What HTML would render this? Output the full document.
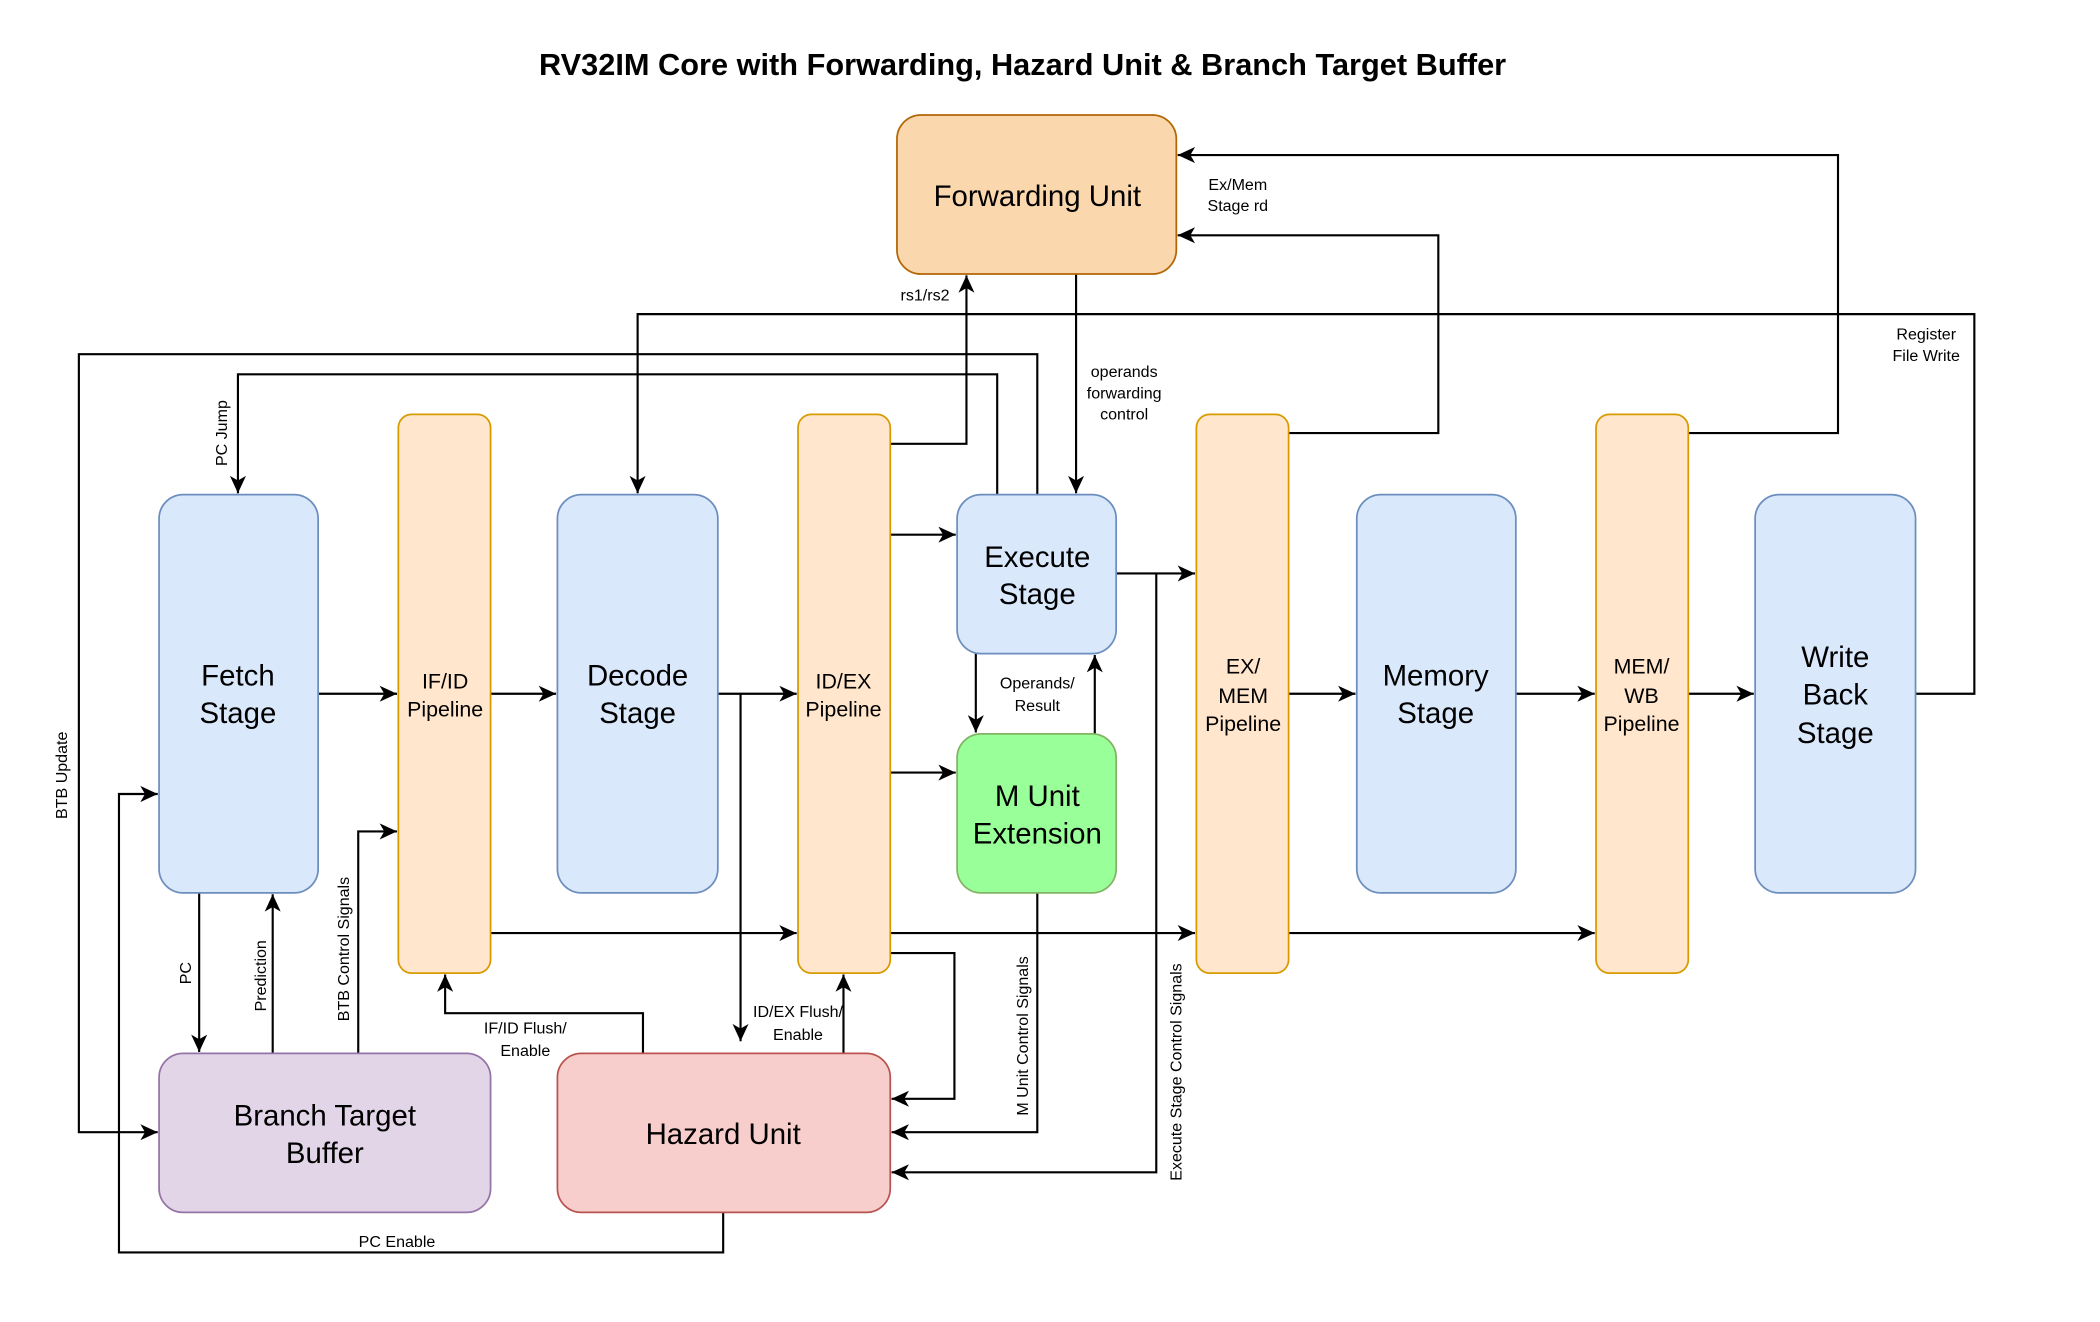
<!DOCTYPE html>
<html><head><meta charset="utf-8"><style>
html,body{margin:0;padding:0;background:#fff;width:2100px;height:1322px;overflow:hidden}
svg{display:block}
text{font-family:"Liberation Sans",Arial,sans-serif;fill:#000}
.n{font-size:22px;text-anchor:middle}
.p{font-size:16px;text-anchor:middle}
.l{font-size:12px;text-anchor:middle}
.e{fill:none;stroke:#000;stroke-width:1.6;marker-end:url(#a)}
.f{fill:none;stroke:#000;stroke-width:1.6}
</style></head><body>
<svg width="2100" height="1322" viewBox="0 0 1571 989" preserveAspectRatio="none">
<defs><marker id="a" markerUnits="userSpaceOnUse" markerWidth="14" markerHeight="12" refX="13" refY="6" orient="auto"><path d="M0,0 L13,6 L0,12 L3.5,6 z" fill="#000"/></marker></defs>
<text x="765" y="56" style="font-size:23px;font-weight:bold;text-anchor:middle">RV32IM Core with Forwarding, Hazard Unit &amp; Branch Target Buffer</text>

<path class="e" d="M238,519H297"/>
<path class="e" d="M367,519H416"/>
<path class="e" d="M537,519H596"/>
<path class="e" d="M964,519H1014"/>
<path class="e" d="M1134,519H1193"/>
<path class="e" d="M1263,519H1312"/>
<path class="e" d="M666,400H715"/>
<path class="e" d="M666,578H715"/>
<path class="e" d="M835,429H894"/>
<path class="e" d="M865,429V877H667"/>
<path class="e" d="M730,489V548"/>
<path class="e" d="M819,549V490"/>
<path class="e" d="M776,668V847H667"/>
<path class="e" d="M666,713H714V822H667"/>
<path class="e" d="M367,698H596"/>
<path class="e" d="M666,698H894"/>
<path class="e" d="M964,698H1193"/>
<path class="e" d="M554,519V779"/>
<path class="e" d="M631,788V729"/>
<path class="e" d="M481,788V758H333V729"/>
<path class="e" d="M541,907V937H89V594H118"/>
<path class="e" d="M149,668V787"/>
<path class="e" d="M204,788V669"/>
<path class="e" d="M268,788V622H297"/>
<path class="e" d="M776,370V265H59V847H118"/>
<path class="e" d="M746,370V280H178V369"/>
<path class="e" d="M666,332H723V206"/>
<path class="e" d="M805,205V369"/>
<path class="e" d="M1433,519H1477V235H477V369"/>
<path class="e" d="M964,324H1076V176H881"/>
<path class="e" d="M1263,324H1375V116H881"/>

<rect x="671" y="86" width="209" height="119" rx="18" fill="#fad7ac" stroke="#b46504" stroke-width="1.3"/>
<text class="n" x="776" y="154">Forwarding Unit</text>

<g fill="#dae8fc" stroke="#6c8ebf" stroke-width="1.3">
<rect x="119" y="370" width="119" height="298" rx="18"/>
<rect x="417" y="370" width="120" height="298" rx="18"/>
<rect x="716" y="370" width="119" height="119" rx="18"/>
<rect x="1015" y="370" width="119" height="298" rx="18"/>
<rect x="1313" y="370" width="120" height="298" rx="18"/>
</g>
<g fill="#ffe6cc" stroke="#d79b00" stroke-width="1.3">
<rect x="298" y="310" width="69" height="418" rx="10"/>
<rect x="597" y="310" width="69" height="418" rx="10"/>
<rect x="895" y="310" width="69" height="418" rx="10"/>
<rect x="1194" y="310" width="69" height="418" rx="10"/>
</g>
<rect x="716" y="549" width="119" height="119" rx="18" fill="#99ff99" stroke="#82b366" stroke-width="1.3"/>
<rect x="119" y="788" width="248" height="119" rx="18" fill="#e1d5e7" stroke="#9673a6" stroke-width="1.3"/>
<rect x="417" y="788" width="249" height="119" rx="18" fill="#f8cecc" stroke="#b85450" stroke-width="1.3"/>

<text class="n" x="178" y="513">Fetch</text><text class="n" x="178" y="541">Stage</text>
<text class="n" x="477" y="513">Decode</text><text class="n" x="477" y="541">Stage</text>
<text class="n" x="776" y="424">Execute</text><text class="n" x="776" y="452">Stage</text>
<text class="n" x="1074" y="513">Memory</text><text class="n" x="1074" y="541">Stage</text>
<text class="n" x="1373" y="499">Write</text><text class="n" x="1373" y="527">Back</text><text class="n" x="1373" y="556">Stage</text>
<text class="n" x="776" y="603">M Unit</text><text class="n" x="776" y="631">Extension</text>
<text class="n" x="243" y="842">Branch Target</text><text class="n" x="243" y="870">Buffer</text>
<text class="n" x="541" y="856">Hazard Unit</text>

<text class="p" x="333" y="515">IF/ID</text><text class="p" x="333" y="536">Pipeline</text>
<text class="p" x="631" y="515">ID/EX</text><text class="p" x="631" y="536">Pipeline</text>
<text class="p" x="930" y="504">EX/</text><text class="p" x="930" y="526">MEM</text><text class="p" x="930" y="547">Pipeline</text>
<text class="p" x="1228" y="504">MEM/</text><text class="p" x="1228" y="526">WB</text><text class="p" x="1228" y="547">Pipeline</text>

<text class="l" x="692" y="225">rs1/rs2</text>
<text class="l" x="841" y="282">operands</text><text class="l" x="841" y="298">forwarding</text><text class="l" x="841" y="314">control</text>
<text class="l" x="926" y="142">Ex/Mem</text><text class="l" x="926" y="158">Stage rd</text>
<text class="l" x="1441" y="254">Register</text><text class="l" x="1441" y="270">File Write</text>
<text class="l" x="776" y="515">Operands/</text><text class="l" x="776" y="532">Result</text>
<text class="l" x="597" y="761">ID/EX Flush/</text><text class="l" x="597" y="778">Enable</text>
<text class="l" x="393" y="773">IF/ID Flush/</text><text class="l" x="393" y="790">Enable</text>
<text class="l" x="297" y="933">PC Enable</text>
<text class="l" transform="translate(143,728) rotate(-90)">PC</text>
<text class="l" transform="translate(199,730) rotate(-90)">Prediction</text>
<text class="l" transform="translate(261,710) rotate(-90)">BTB Control Signals</text>
<text class="l" transform="translate(50,580) rotate(-90)">BTB Update</text>
<text class="l" transform="translate(170,324) rotate(-90)">PC Jump</text>
<text class="l" transform="translate(769,775) rotate(-90)">M Unit Control Signals</text>
<text class="l" transform="translate(884,802) rotate(-90)">Execute Stage Control Signals</text>
</svg>
</body></html>
